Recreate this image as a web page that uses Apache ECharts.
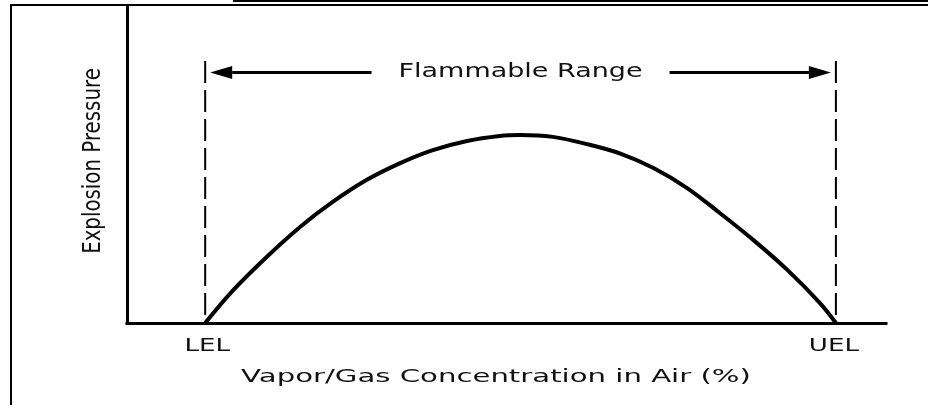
<!DOCTYPE html>
<html>
<head>
<meta charset="utf-8">
<script src="https://cdn.jsdelivr.net/npm/echarts@6/dist/echarts.min.js"></script>
<style>
  html, body { margin: 0; padding: 0; background: #fff; }
  #chart { width: 934px; height: 405px; }
</style>
</head>
<body>
<div id="chart"></div>
<script>
// Explosion pressure across the flammable range of a vapour/gas in air.
// Concentration is expressed on a relative 0-100 scale; pressure likewise.
const concentration = [10.3, 14.0, 18.4, 22.8, 27.1, 31.6, 36.0, 40.3, 44.8, 49.1, 51.8,
                       56.1, 60.6, 65.0, 69.3, 73.8, 78.1, 82.5, 87.0, 91.3, 93.4];
const pressure      = [0, 10.4, 20.9, 30.4, 38.3, 45.3, 50.6, 54.7, 57.6, 59.2, 59.5,
                       58.9, 56.6, 53.6, 49.1, 42.7, 34.8, 26.3, 16.8, 6.3, 0];

// Lower and upper explosive limits
const limitNames  = ['LEL', 'UEL'];
const limitValues = [10.3, 93.4];

const xTitle     = 'Vapor/Gas Concentration in Air (%)';
const yTitle     = 'Explosion Pressure';
const rangeTitle = 'Flammable Range';

// Height (pressure units) of the dashed limit markers and of the range arrows
const MARKER_TOP = 82.9;
const ARROW_LEVEL = 79.4;

const FONT = '"DejaVu Sans", Verdana, sans-serif';
const INK = '#111';

const chart = echarts.init(document.getElementById('chart'), null, { renderer: 'canvas' });

function renderLimit(params, api) {
  const i = params.dataIndex;
  const v = api.value(0);
  const base = api.coord([v, 0]);
  const top = api.coord([v, MARKER_TOP]);
  const arrowY = Math.round(api.coord([v, ARROW_LEVEL])[1]) + 0.5;
  const lel = api.coord([limitValues[0], 0])[0];
  const uel = api.coord([limitValues[1], 0])[0];
  const mid = (lel + uel) / 2;
  const dir = i === 0 ? 1 : -1;
  const tip = base[0] + dir * 5;
  const headBase = tip + dir * 22;
  const inner = mid - dir * 149;

  const children = [
    {
      type: 'line',
      shape: { x1: base[0], y1: top[1], x2: base[0], y2: base[1] },
      style: { stroke: '#000', lineWidth: 2, lineDash: [22, 7] }
    },
    {
      type: 'line',
      shape: { x1: headBase, y1: arrowY, x2: inner, y2: arrowY },
      style: { stroke: '#000', lineWidth: 3 }
    },
    {
      type: 'polygon',
      shape: { points: [[tip, arrowY], [headBase, arrowY - 6.5], [headBase, arrowY + 6.5]] },
      style: { fill: '#000' }
    },
    {
      type: 'text',
      x: base[0] + dir * 2, y: base[1] + 23,
      scaleX: 1.45,
      style: {
        text: limitNames[i], fill: INK,
        font: '18px ' + FONT, align: 'center', verticalAlign: 'middle'
      }
    }
  ];
  if (i === 0) {
    children.push({
      type: 'text',
      x: mid, y: arrowY,
      scaleX: 1.42,
      style: {
        text: rangeTitle, fill: INK,
        font: '19px ' + FONT, align: 'center', verticalAlign: 'middle'
      }
    });
  }
  return { type: 'group', children };
}

const option = {
  animation: false,
  backgroundColor: '#fff',
  grid: { left: 127, right: 48, top: 7, bottom: 82 },
  xAxis: {
    type: 'value', min: 0, max: 100,
    axisLine: { show: true, onZero: false, lineStyle: { color: '#000', width: 3, cap: 'square' } },
    axisTick: { show: false }, axisLabel: { show: false }, splitLine: { show: false }
  },
  yAxis: {
    type: 'value', min: 0, max: 100,
    axisLine: { show: true, lineStyle: { color: '#000', width: 3, cap: 'square' } },
    axisTick: { show: false }, axisLabel: { show: false }, splitLine: { show: false }
  },
  series: [
    {
      type: 'line',
      data: concentration.map((c, k) => [c, pressure[k]]),
      smooth: 0.35,
      showSymbol: false,
      lineStyle: { color: '#000', width: 4 },
      z: 3
    },
    {
      type: 'custom',
      data: limitValues.map(v => [v]),
      renderItem: renderLimit,
      clip: false,
      z: 4
    }
  ],
  graphic: [
    // page frame
    { type: 'rect', shape: { x: 233, y: 0, width: 695, height: 2 }, style: { fill: '#000' } },
    { type: 'rect', shape: { x: 10, y: 4, width: 918, height: 2 }, style: { fill: '#000' } },
    { type: 'rect', shape: { x: 10, y: 4, width: 2, height: 401 }, style: { fill: '#000' } },
    // axis titles
    {
      type: 'text', x: 496, y: 377, scaleX: 1.62,
      style: { text: xTitle, fill: INK, font: '18px ' + FONT, align: 'center', verticalAlign: 'middle' }
    },
    {
      type: 'text', x: 93, y: 161, rotation: Math.PI / 2, scaleX: 1.1, scaleY: 1.4,
      style: { text: yTitle, fill: INK, font: '18px ' + FONT, align: 'center', verticalAlign: 'middle' }
    }
  ]
};

chart.setOption(option);
</script>
</body>
</html>
